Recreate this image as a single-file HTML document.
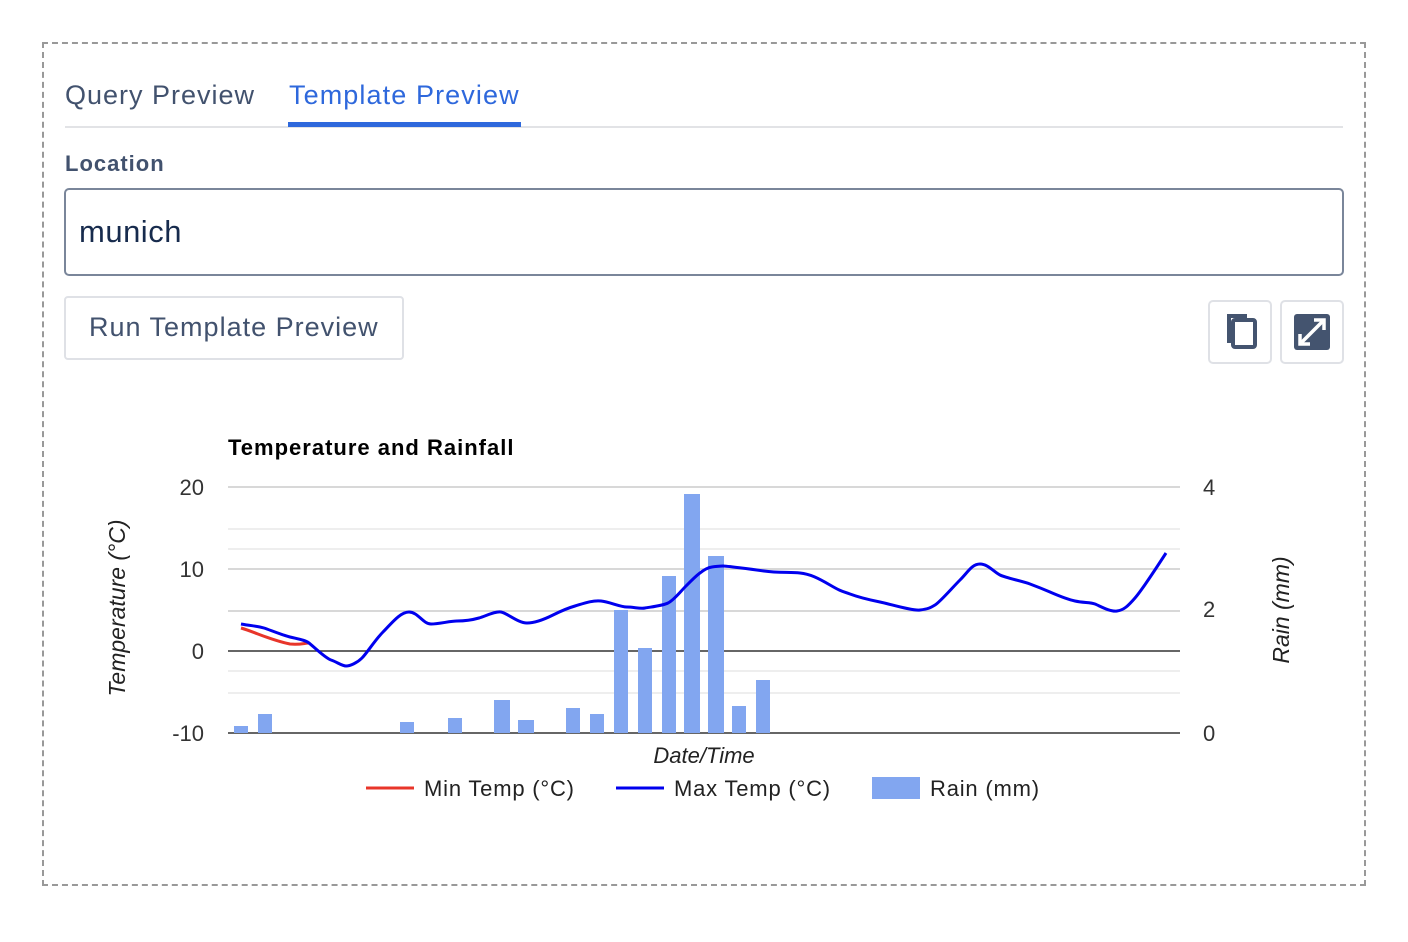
<!DOCTYPE html>
<html><head><meta charset="utf-8"><style>
body{margin:0;width:1408px;height:942px;background:#fff;font-family:"Liberation Sans",sans-serif;position:relative;overflow:hidden}
.box{position:absolute;left:42px;top:42px;width:1324px;height:844px;border:2px dashed #999;box-sizing:border-box}
.abs{position:absolute}
</style></head><body>
<div class="box"></div>
<div class="abs" style="left:65px;top:80px;font-size:27px;color:#42526e;letter-spacing:1px">Query Preview</div>
<div class="abs" style="left:289px;top:80px;font-size:27px;color:#2e68dc;letter-spacing:1.1px">Template Preview</div>
<div class="abs" style="left:65px;top:126px;width:1278px;height:2px;background:#e2e3e6"></div>
<div class="abs" style="left:288px;top:122px;width:233px;height:5px;background:#2e68dc"></div>
<div class="abs" style="left:65px;top:151px;font-size:22px;font-weight:bold;color:#42526e;letter-spacing:1px">Location</div>
<div class="abs" style="left:64px;top:188px;width:1280px;height:88px;border:2px solid #7a869a;border-radius:5px;box-sizing:border-box"></div>
<div class="abs" style="left:79px;top:214px;font-size:31px;color:#172b4d;letter-spacing:0.5px">munich</div>
<div class="abs" style="left:64px;top:296px;width:340px;height:64px;border:2px solid #dfe1e6;border-radius:4px;box-sizing:border-box"></div>
<div class="abs" style="left:89px;top:312px;font-size:27px;color:#42526e;letter-spacing:1px">Run Template Preview</div>
<div class="abs" style="left:1208px;top:300px;width:64px;height:64px;border:2px solid #dfe1e6;border-radius:5px;box-sizing:border-box"></div>
<div class="abs" style="left:1280px;top:300px;width:64px;height:64px;border:2px solid #dfe1e6;border-radius:5px;box-sizing:border-box"></div>
<svg class="abs" style="left:0;top:0" width="1408" height="942">
<g fill="none" stroke="#44546f" stroke-width="4">
<path d="M1229 343 V316 H1247"/><rect x="1233" y="320" width="22" height="27" rx="2"/></g>
<rect x="1294" y="314" width="36" height="36" rx="3" fill="#44546f"/>
<g stroke="#fff" stroke-width="3.5" fill="none"><path d="M1300 344 L1324 320"/><path d="M1300 334 V344 H1310 M1314 320 H1324 V330"/></g>
<text x="228" y="455" font-size="22" font-weight="bold" font-family="Liberation Sans" letter-spacing="1">Temperature and Rainfall</text>
<g stroke="#ccc" stroke-width="1.5"><path d="M228 487H1180M228 569H1180M228 611H1180"/></g>
<g stroke="#e8e8e8" stroke-width="1.5"><path d="M228 529H1180M228 549H1180M228 671H1180M228 693H1180"/></g>
<g stroke="#333" stroke-width="1.5"><path d="M228 651H1180M228 733H1180"/></g>
<g font-size="22" fill="#333" font-family="Liberation Sans" text-anchor="end">
<text x="204" y="495">20</text><text x="204" y="577">10</text><text x="204" y="659">0</text><text x="204" y="741">-10</text></g>
<g font-size="22" fill="#333" font-family="Liberation Sans">
<text x="1203" y="495">4</text><text x="1203" y="617">2</text><text x="1203" y="741">0</text></g>
<text transform="translate(125,608) rotate(-90)" text-anchor="middle" font-size="23" font-style="italic" fill="#222">Temperature (°C)</text>
<text transform="translate(1289,610) rotate(-90)" text-anchor="middle" font-size="23" font-style="italic" fill="#222">Rain (mm)</text>
<text x="704" y="763" text-anchor="middle" font-size="22" font-style="italic" fill="#222">Date/Time</text>
<g fill="#82a6f0">
<rect x="234" y="726" width="14" height="7"/><rect x="258" y="714" width="14" height="19"/>
<rect x="400" y="722" width="14" height="11"/><rect x="448" y="718" width="14" height="15"/>
<rect x="494" y="700" width="16" height="33"/><rect x="518" y="720" width="16" height="13"/>
<rect x="566" y="708" width="14" height="25"/><rect x="590" y="714" width="14" height="19"/>
<rect x="614" y="610" width="14" height="123"/><rect x="638" y="648" width="14" height="85"/>
<rect x="662" y="576" width="14" height="157"/><rect x="684" y="494" width="16" height="239"/>
<rect x="708" y="556" width="16" height="177"/><rect x="732" y="706" width="14" height="27"/>
<rect x="756" y="680" width="14" height="53"/></g>
<path d="M241 628 C255 632,270 640,290 644 C300 645,305 643,309 643" fill="none" stroke="#e8352a" stroke-width="3"/>
<path fill="none" stroke="#0000ee" stroke-width="3" stroke-linejoin="round" d="M241 624 C252 626,258 626,264 628 S282 635,290 637 S305 640,309 643 S325 658,331 660 S342 666,346 666 S357 663,362 658 S375 640,383 632 S400 612,409 612 S423 624,431 624 S450 621,457 621 S472 620,479 618 S495 611,501 612 S518 623,527 623 S545 619,553 615 S568 608,575 606 S592 600,601 601 S620 607,627 607 S640 609,645 608 S662 606,668 603 S680 592,686 586 S703 568,712 567 S720 566,723 566 S750 569,764 571 S790 572,800 573 S818 578,830 585 S842 591,850 594 S870 600,880 602 S912 611,920 610 S930 608,935 605 S952 588,960 580 S972 564,980 564 S994 572,1000 575 S1022 581,1030 584 S1043 589,1050 592 S1066 599,1075 601 S1090 602,1095 604 S1110 612,1117 611 S1128 606,1135 598 S1155 570,1166 553"/>
<line x1="366" y1="788" x2="414" y2="788" stroke="#e8352a" stroke-width="3"/>
<text x="424" y="796" font-size="22" fill="#222" letter-spacing="0.8">Min Temp (°C)</text>
<line x1="616" y1="788" x2="664" y2="788" stroke="#0000ee" stroke-width="3"/>
<text x="674" y="796" font-size="22" fill="#222" letter-spacing="0.8">Max Temp (°C)</text>
<rect x="872" y="777" width="48" height="22" fill="#82a6f0"/>
<text x="930" y="796" font-size="22" fill="#222" letter-spacing="0.8">Rain (mm)</text>
</svg>
</body></html>
